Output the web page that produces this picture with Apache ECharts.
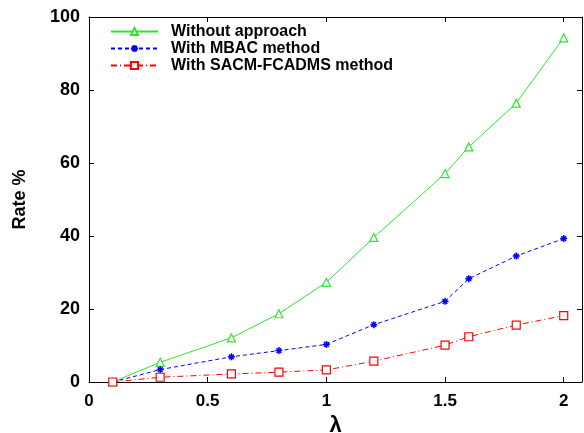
<!DOCTYPE html>
<html>
<head>
<meta charset="utf-8">
<script src="https://cdn.jsdelivr.net/npm/echarts@6/dist/echarts.min.js"></script>
<style>
  html, body { margin: 0; padding: 0; background: #fff; }
  #chart { width: 584px; height: 433px; }
</style>
</head>
<body>
<div id="chart"></div>
<script>
// Arrival rate values on the horizontal axis
const lambdas = [0.1, 0.3, 0.6, 0.8, 1.0, 1.2, 1.5, 1.6, 1.8, 2.0];

// Rate (%) for each scheme
const withoutApproach = [0, 5.4, 12.1, 18.7, 27.3, 39.6, 57.1, 64.4, 76.4, 94.3];
const withMBAC        = [0, 3.4, 6.9, 8.6, 10.3, 15.7, 22.1, 28.3, 34.5, 39.3];
const withSACM        = [0, 1.3, 2.2, 2.7, 3.3, 5.7, 10.1, 12.4, 15.6, 18.2];

const seriesNames = ['Without approach', 'With MBAC method', 'With SACM-FCADMS method'];

const xTicks = [0, 0.5, 1, 1.5, 2];
const yTicks = [0, 20, 40, 60, 80, 100];

const font = 'Liberation Sans, Arial, Helvetica, sans-serif';

const pair = vals => lambdas.map((x, i) => [x, vals[i]]);

const asterisk = 'path://M0,5L10,5M5,0L5,10M1.6,1.6L8.4,8.4M8.4,1.6L1.6,8.4';

const chart = echarts.init(document.getElementById('chart'), null, { renderer: 'canvas' });

const xBase = {
  type: 'value', min: 0, max: 2.077,
  splitLine: { show: false },
  axisLine: { show: true, onZero: false, lineStyle: { color: '#000', width: 1 } },
  axisTick: { show: true, inside: true, length: 5, customValues: xTicks, lineStyle: { color: '#000' } }
};
const yBase = {
  type: 'value', min: 0, max: 100,
  splitLine: { show: false },
  axisLine: { show: true, onZero: false, lineStyle: { color: '#000', width: 1 } },
  axisTick: { show: true, inside: true, length: 5, customValues: yTicks, lineStyle: { color: '#000' } }
};

chart.setOption({
  animation: false,
  backgroundColor: '#fff',
  grid: { left: 89, right: 2, top: 17, bottom: 51, containLabel: false, outerBoundsMode: 'none' },
  legend: {
    left: 105, top: 18, orient: 'vertical',
    itemWidth: 47, itemHeight: 9, itemGap: 0,
    textStyle: {
      fontFamily: font, fontWeight: 'bold', fontSize: 16, lineHeight: 17,
      color: '#000', padding: [0, 0, 0, 8]
    },
    data: seriesNames
  },
  xAxis: [
    Object.assign({}, xBase, {
      position: 'bottom',
      name: 'λ', nameLocation: 'middle', nameGap: 32,
      nameTextStyle: { fontFamily: font, fontWeight: 'bold', fontSize: 22, color: '#000' },
      axisLabel: {
        customValues: xTicks, margin: 11,
        fontFamily: font, fontWeight: 'bold', fontSize: 17, color: '#000'
      }
    }),
    Object.assign({}, xBase, { position: 'top', axisLabel: { show: false } })
  ],
  yAxis: [
    Object.assign({}, yBase, {
      position: 'left',
      name: 'Rate %', nameLocation: 'middle', nameGap: 60, nameRotate: 90,
      nameTextStyle: { fontFamily: font, fontWeight: 'bold', fontSize: 18, color: '#000' },
      axisLabel: {
        customValues: yTicks, margin: 9,
        fontFamily: font, fontWeight: 'bold', fontSize: 18, color: '#000'
      }
    }),
    Object.assign({}, yBase, { position: 'right', axisLabel: { show: false } })
  ],
  series: [
    {
      name: seriesNames[0], type: 'line', data: pair(withoutApproach),
      symbol: 'triangle', symbolSize: 8,
      lineStyle: { color: '#2ee62e', width: 1, type: 'solid' },
      itemStyle: { color: '#fff', borderColor: '#2ee62e', borderWidth: 1.2 },
      z: 3
    },
    {
      name: seriesNames[1], type: 'line', data: pair(withMBAC),
      symbol: asterisk, symbolSize: 7,
      lineStyle: { color: '#0000ff', width: 1, type: [4, 3] },
      itemStyle: { color: 'rgba(0,0,0,0)', borderColor: '#0000ff', borderWidth: 1.5 },
      z: 4
    },
    {
      name: seriesNames[2], type: 'line', data: pair(withSACM),
      symbol: 'rect', symbolSize: 8,
      lineStyle: { color: '#ff0000', width: 1, type: [6, 3, 1, 3] },
      itemStyle: { color: '#fff', borderColor: '#ff0000', borderWidth: 1.2 },
      z: 5
    }
  ]
});
</script>
</body>
</html>
